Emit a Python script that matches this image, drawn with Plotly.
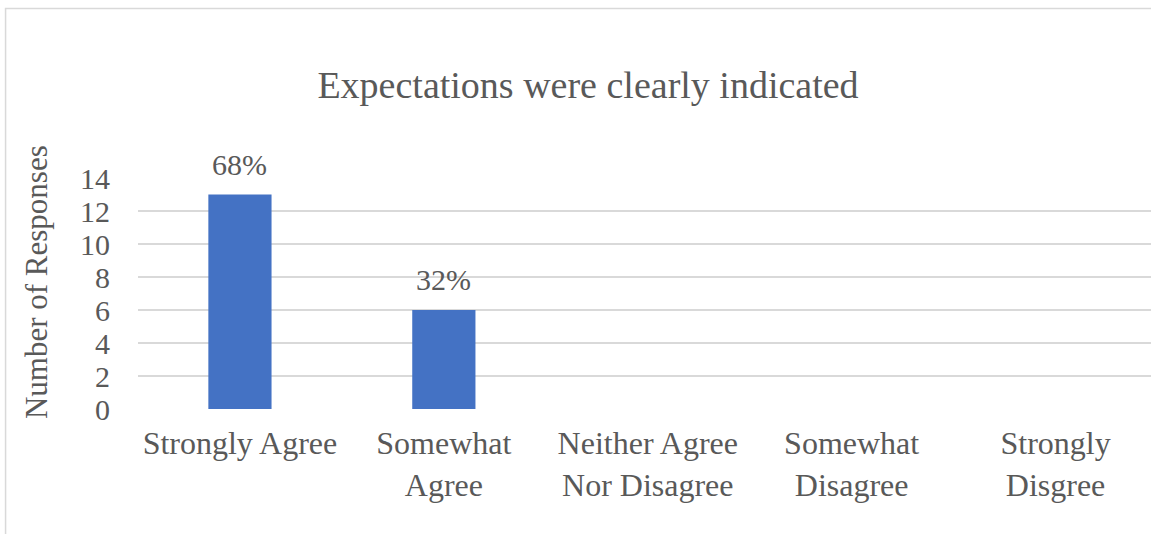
import plotly.graph_objects as go

categories = ["Strongly Agree", "Somewhat<br>Agree", "Neither Agree<br>Nor Disagree",
              "Somewhat<br>Disagree", "Strongly<br>Disgree"]
responses = [13, 6, 0, 0, 0]
pct_labels = ["68%", "32%", "", "", ""]
y_ticks = [0, 2, 4, 6, 8, 10, 12, 14]

FONT = "Liberation Serif, Times New Roman, serif"
TXT = "#595959"

fig = go.Figure()
fig.add_trace(go.Bar(
    x=categories, y=responses,
    marker=dict(color="#4472C4", line=dict(width=0)),
    cliponaxis=False, hoverinfo="skip",
))

for c, v, t in zip(categories, responses, pct_labels):
    if t:
        fig.add_annotation(x=c, y=v, text=t, showarrow=False, yanchor="bottom",
                           yshift=12, font=dict(family=FONT, size=30, color=TXT))

# y-axis title
fig.add_annotation(text="Number of Responses", textangle=-90, showarrow=False,
                   xref="paper", yref="paper",
                   x=(36 - 137.5) / 1013.5, y=(409 - 282.5) / 231,
                   xanchor="center", yanchor="middle",
                   font=dict(family=FONT, size=31, color=TXT))

# chart-area border (cropped at right/bottom)
fig.add_shape(type="rect", xref="paper", yref="paper",
              x0=(5 - 137.5) / 1013.5, x1=1.3, y0=-1.0, y1=(409 - 8.5) / 231,
              line=dict(color="#D9D9D9", width=1.5), layer="below")

fig.update_layout(
    width=1151, height=534,
    margin=dict(l=137.5, r=0, t=178, b=125),
    paper_bgcolor="white", plot_bgcolor="white",
    bargap=0.69,
    showlegend=False,
    font=dict(family=FONT, color=TXT),
    title=dict(text="Expectations were clearly indicated",
               font=dict(family=FONT, size=38, color=TXT),
               x=588 / 1151, xanchor="center", xref="container",
               y=1 - 85 / 534, yanchor="middle", yref="container"),
    xaxis=dict(range=[-0.5, 4.5 - 6.5 / 204], showgrid=False, zeroline=False,
               showline=False, ticks="", tickfont=dict(family=FONT, size=32, color=TXT),
               ticklabelstandoff=12, fixedrange=True),
    yaxis=dict(range=[0, 14], tickvals=y_ticks, showgrid=True, gridcolor="#D9D9D9",
               gridwidth=1.5, zeroline=False, showline=False, ticks="",
               tickfont=dict(family=FONT, size=30, color=TXT), ticklabelstandoff=27,
               fixedrange=True),
)

fig.write_html("out.html", config=dict(displayModeBar=False),
               post_script="document.body.style.margin='0';document.body.style.overflow='hidden';")
